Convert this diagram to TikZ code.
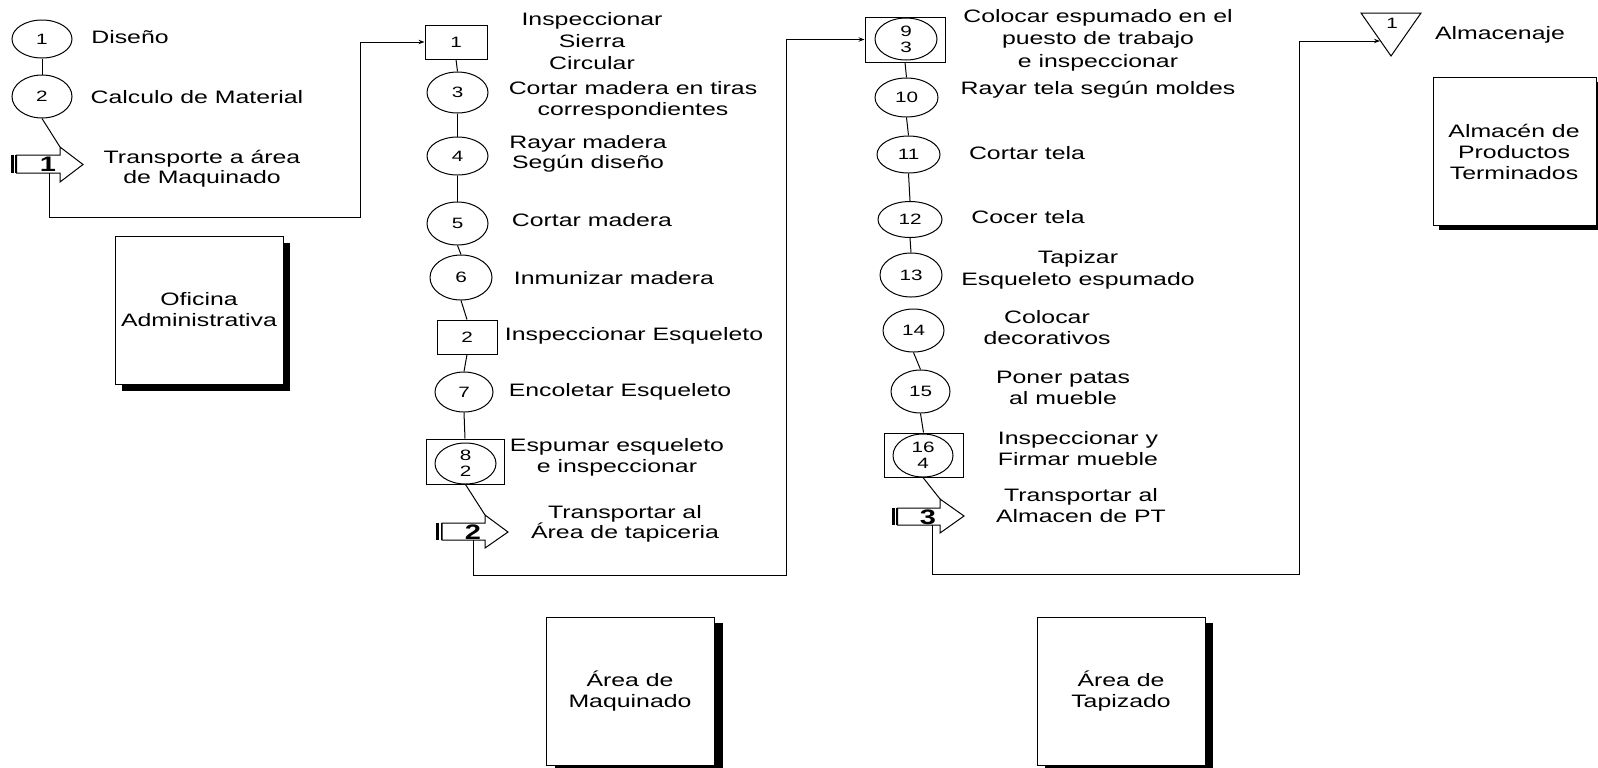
\documentclass[tikz,border=0pt]{standalone}
\usepackage{fontspec}
\setmainfont{Liberation Sans}[FakeStretch=1.38]
\usetikzlibrary{arrows.meta,shapes.geometric,shadows}
\tikzset{
  ln/.style={line width=0.5pt, draw=black},
  arr/.style={ln, -{Stealth[length=3pt,width=2.2pt]}},
  op/.style={ln, ellipse, inner sep=0pt, font=\fontsize{7.5}{8}\selectfont, align=center},
  insp/.style={ln, rectangle, inner sep=0pt, font=\fontsize{7.5}{8}\selectfont, align=center},
  lbl/.style={inner sep=0pt, align=center, font=\fontsize{9}{10.5}\selectfont},
  bignum/.style={inner sep=0pt, font=\fontsize{10.5}{12}\selectfont\bfseries},
  area/.style={ln, fill=white, inner sep=0pt, align=center, font=\fontsize{9}{10.5}\selectfont},
}
\begin{document}
\begin{tikzpicture}[x=0.5pt,y=-0.5pt]
\fill[white] (0,0) rectangle (1598,767);
\clip (0,0) rectangle (1598,767);

% ---------------- Oficina ----------------
\node[op, minimum width=30pt, minimum height=19pt] (c1) at (42,39) {1};
\node[op, minimum width=30pt, minimum height=21.5pt] (c2) at (42,96.5) {2};
\node[lbl] (l1) at (130,37) {Diseño};
\node[lbl] (l2) at (197,97) {Calculo de Material};
\node[lbl, font=\fontsize{9}{9.8}\selectfont] (l3) at (202,169) {Transporte a área\\de Maquinado};

% transport arrow 1
\draw[ln, fill=white] (16.5,155) -- (60,155) -- (60,147) -- (83,164.5) -- (60,182) -- (60,173) -- (16.5,173) -- cycle;
\fill (11,155) rectangle (14,173);
\draw[ln] (15.5,155) -- (15.5,173);
\node[bignum] (n1) at (48,164) {1};
\coordinate (t1top) at (60,147);
\coordinate (t1bot) at (49,173);
\coordinate (k1) at (360,217);

\draw[ln] (c1.south) -- (c2.north);
\draw[ln] (c2.south) -- (t1top);

\node[area, minimum width=84pt, minimum height=74pt,
  drop shadow={shadow xshift=3.7pt, shadow yshift=-3.5pt, opacity=1, fill=black}]
  (ofi) at (199,310) {Oficina\\Administrativa};

% ---------------- Maquinado ----------------
\node[insp, minimum width=31pt, minimum height=17pt] (b1) at (456,42) {1};
\node[op, minimum width=30.5pt, minimum height=20.5pt] (c3) at (457.5,92.5) {3};
\node[op, minimum width=30.5pt, minimum height=19pt] (c4) at (457.5,156) {4};
\node[op, minimum width=30.5pt, minimum height=21.5pt] (c5) at (457.5,223.5) {5};
\node[op, minimum width=31pt, minimum height=22.5pt] (c6) at (461,277.5) {6};
\node[insp, minimum width=30pt, minimum height=17pt] (b2) at (467,337) {2};
\node[op, minimum width=29pt, minimum height=20pt] (c7) at (464,392) {7};
\node[insp, minimum width=39pt, minimum height=22.5pt] (b8) at (465,461.5) {};
\node[op, minimum width=30.5pt, minimum height=20.5pt] (c8) at (465.5,463.5) {8\\2};

\node[lbl, font=\fontsize{9}{11}\selectfont] (l4) at (592,41) {Inspeccionar\\Sierra\\Circular};
\node[lbl] (l5) at (633,100) {Cortar madera en tiras\\correspondientes};
\node[lbl, font=\fontsize{9}{9.8}\selectfont] (l6) at (588,154) {Rayar madera\\Según diseño};
\node[lbl] (l7) at (592,220) {Cortar madera};
\node[lbl] (l8) at (614,278) {Inmunizar madera};
\node[lbl] (l9) at (634,336) {Inspeccionar Esqueleto};
\node[lbl] (l10) at (620,392) {Encoletar Esqueleto};
\node[lbl] (l11) at (617,457) {Espumar esqueleto\\e inspeccionar};
\node[lbl, font=\fontsize{9}{10}\selectfont] (l12) at (625,524) {Transportar al\\Área de tapiceria};

% transport arrow 2
\draw[ln, fill=white] (442,523) -- (485,523) -- (485,515) -- (508,532) -- (485,548) -- (485,540) -- (442,540) -- cycle;
\fill (436,523) rectangle (439,540);
\draw[ln] (441,523) -- (441,540);
\node[bignum] (n2) at (473,532) {2};
\coordinate (t2top) at (485,515);
\coordinate (t2bot) at (473,540);
\coordinate (k2) at (786,575);

\draw[arr] (t1bot) |- (k1) |- (b1.west);
\draw[ln] (b1.south) -- (c3.north);
\draw[ln] (c3.south) -- (c4.north);
\draw[ln] (c4.south) -- (c5.north);
\draw[ln] (c5.south) -- (c6.north);
\draw[ln] (c6.south) -- (b2.north);
\draw[ln] (b2.south) -- (c7.north);
\draw[ln] (c7.south) -- (b8.north);
\draw[ln] (c8.south) -- (t2top);

\node[area, minimum width=84pt, minimum height=74pt,
  drop shadow={shadow xshift=4.4pt, shadow yshift=-3pt, opacity=1, fill=black}]
  (maq) at (630,691) {Área de\\Maquinado};

% ---------------- Tapizado ----------------
\node[insp, minimum width=40pt, minimum height=22.5pt] (b9) at (905,39.5) {};
\node[op, minimum width=31pt, minimum height=21pt] (c9) at (906,39) {9\\3};
\node[op, minimum width=31.5pt, minimum height=19.5pt] (c10) at (906.5,97.5) {10};
\node[op, minimum width=31.5pt, minimum height=18.5pt] (c11) at (908.5,154.5) {11};
\node[op, minimum width=32pt, minimum height=18pt] (c12) at (910,219.5) {12};
\node[op, minimum width=31pt, minimum height=22pt] (c13) at (911,275) {13};
\node[op, minimum width=30.5pt, minimum height=21.5pt] (c14) at (913.5,330.5) {14};
\node[op, minimum width=29.5pt, minimum height=21.5pt] (c15) at (920.5,391.5) {15};
\node[insp, minimum width=39.5pt, minimum height=22pt] (b16) at (923.5,455) {};
\node[op, minimum width=30pt, minimum height=21.5pt] (c16) at (923,455.5) {16\\4};

\node[lbl, font=\fontsize{9}{11.3}\selectfont] (l13) at (1098,40) {Colocar espumado en el\\puesto de trabajo\\e inspeccionar};
\node[lbl] (l14) at (1098,90) {Rayar tela según moldes};
\node[lbl] (l15) at (1027,153) {Cortar tela};
\node[lbl] (l16) at (1028,217) {Cocer tela};
\node[lbl, font=\fontsize{9}{11}\selectfont] (l17) at (1078,270) {Tapizar\\Esqueleto espumado};
\node[lbl] (l18) at (1047,328) {Colocar\\decorativos};
\node[lbl] (l19) at (1063,388) {Poner patas\\al mueble};
\node[lbl] (l20) at (1078,449) {Inspeccionar y\\Firmar mueble};
\node[lbl] (l21) at (1081,506) {Transportar al\\Almacen de PT};

% transport arrow 3
\draw[ln, fill=white] (897.5,508) -- (940,508) -- (940,499) -- (964,516) -- (940,533) -- (940,525) -- (897.5,525) -- cycle;
\fill (892,508) rectangle (895,525);
\draw[ln] (896.5,508) -- (896.5,525);
\node[bignum] (n3) at (928,517) {3};
\coordinate (t3top) at (940,499);
\coordinate (t3bot) at (932,525);
\coordinate (k3) at (1299,574);

\draw[arr] (t2bot) |- (k2) |- (b9.west);
\draw[ln] (b9.south) -- (c10.north);
\draw[ln] (c10.south) -- (c11.north);
\draw[ln] (c11.south) -- (c12.north);
\draw[ln] (c12.south) -- (c13.north);
\draw[ln] (c14.south) -- (c15.north);
\draw[ln] (c15.south) -- (b16.north);
\draw[ln] (c16.south) -- (t3top);

\node[area, minimum width=84pt, minimum height=74pt,
  drop shadow={shadow xshift=4.2pt, shadow yshift=-3pt, opacity=1, fill=black}]
  (tap) at (1121,691) {Área de\\Tapizado};

% ---------------- Almacen ----------------
\draw[ln] (1361,13) -- (1421,13) -- (1391,56) -- cycle;
\node[inner sep=0pt, font=\fontsize{7.5}{8}\selectfont] (n4) at (1392,23) {1};
\coordinate (tri) at (1380,41);
\draw[arr] (t3bot) |- (k3) |- (tri);
\node[lbl] (l22) at (1500,35) {Almacenaje};

\node[area, minimum width=81.5pt, minimum height=74pt,
  drop shadow={shadow xshift=3pt, shadow yshift=-2.5pt, opacity=1, fill=black}]
  (alm) at (1514.5,151) {};
\node[lbl] (l23) at (1514,152) {Almacén de\\Productos\\Terminados};
\end{tikzpicture}
\end{document}
